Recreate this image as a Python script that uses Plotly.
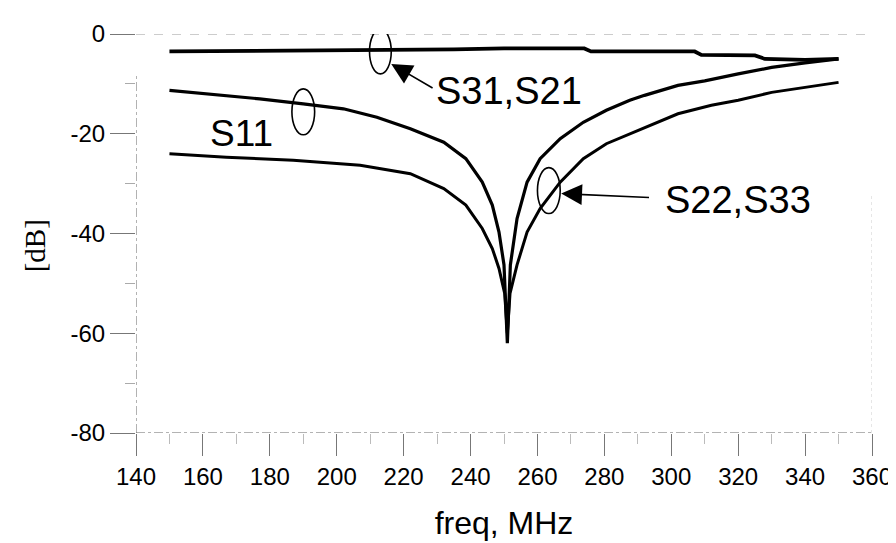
import plotly.graph_objects as go

# ---------------- data ----------------
freq_s21 = [150, 200, 235, 250, 274, 276, 307, 309, 325, 328, 340, 350]
db_s21 = [-3.5, -3.3, -3.1, -2.9, -2.9, -3.5, -3.5, -4.2, -4.3, -5.0, -5.2, -5.0]

freq_s11 = [150, 162, 177, 190, 202, 212, 222, 232, 238.6, 243.5, 246.5, 248.5, 250, 251,
            251.9, 253.9, 256.9, 260.8, 266.8, 273.7, 280.6, 287.6, 292, 302, 310, 320,
            330, 340, 350]
db_s11 = [-11.3, -12, -13, -14, -15, -16.7, -19, -21.7, -25, -29.7, -34.3, -39.7, -46.3, -62,
          -46.3, -37, -29.7, -25, -21, -17.7, -15.3, -13.3, -12.3, -10.3, -9.4, -8.0,
          -6.7, -5.8, -5.0]

freq_s22 = [150, 167, 187, 207, 222, 232, 238.6, 243.5, 246.5, 248.5, 250.2, 251,
            251.8, 253.9, 256.9, 260.8, 266.8, 273.7, 280.6, 287.6, 292, 302, 312, 320,
            330, 340, 350]
db_s22 = [-24, -24.7, -25.3, -26.3, -28, -31, -34.3, -39, -43, -47, -52, -60,
          -52, -46.3, -39.7, -35, -29.7, -25, -22, -20, -18.8, -16, -14.3, -13.3,
          -11.7, -10.7, -9.7]

x_ticks = [140, 160, 180, 200, 220, 240, 260, 280, 300, 320, 340, 360]
y_ticks = [0, -20, -40, -60, -80]

FONT = "Liberation Sans, Arial, sans-serif"

fig = go.Figure()
fig.add_trace(go.Scatter(x=freq_s21, y=db_s21, mode="lines",
                         line=dict(color="black", width=3.8), name="S31,S21"))
fig.add_trace(go.Scatter(x=freq_s11, y=db_s11, mode="lines",
                         line=dict(color="black", width=3.2), name="S11"))
fig.add_trace(go.Scatter(x=freq_s22, y=db_s22, mode="lines",
                         line=dict(color="black", width=3.0), name="S22,S33"))

fig.update_layout(
    width=896, height=543,
    margin=dict(l=128, r=27, t=25, b=118),
    paper_bgcolor="white", plot_bgcolor="white",
    showlegend=False,
    font=dict(family=FONT, color="black"),
    xaxis=dict(range=[140, 360], tickvals=x_ticks, ticktext=[str(v) for v in x_ticks],
               showgrid=False, zeroline=False, showline=False,
               ticks="outside", ticklen=22, tickcolor="#777", tickwidth=1,
               tickfont=dict(size=24, family=FONT),
               minor=dict(ticks="outside", ticklen=10, tickcolor="#bbb", dtick=10),
               title=dict(text="freq, MHz", font=dict(size=32, family=FONT), standoff=22)),
    yaxis=dict(range=[-80, 0], tickvals=y_ticks, ticktext=[str(v) for v in y_ticks],
               showgrid=False, zeroline=False, showline=False,
               ticks="outside", ticklen=25, tickcolor="#777", tickwidth=1,
               tickfont=dict(size=24, family=FONT),
               minor=dict(ticks="outside", ticklen=10, tickcolor="#aaa", dtick=10)),
)

# frame / grid lines (scanned-looking dashed lines)
fig.add_shape(type="line", xref="paper", yref="y", x0=0, x1=1, y0=0, y1=0,
              line=dict(color="#999", width=1, dash="dash"), layer="below")
fig.add_shape(type="line", xref="paper", yref="y", x0=0, x1=1, y0=-80, y1=-80,
              line=dict(color="#666", width=1, dash="dashdot"), layer="below")
fig.add_shape(type="line", xref="x", yref="paper", x0=140, x1=140, y0=0, y1=0.9,
              line=dict(color="#666", width=1, dash="dashdot"), layer="below")
fig.add_shape(type="line", xref="x", yref="paper", x0=360, x1=360, y0=0, y1=0.6,
              line=dict(color="#ccc", width=1, dash="dot"), layer="below")

# ellipses
for (x0, x1, y0, y1) in [(209.8, 216.3, 1.0, -8.0),
                         (186.6, 193.4, -11.0, -20.2),
                         (260.0, 266.8, -26.8, -36.0)]:
    fig.add_shape(type="circle", xref="x", yref="y", x0=x0, x1=x1, y0=y0, y1=y1,
                  line=dict(color="black", width=1.6))

# labels
fig.add_annotation(x=251.6, y=-11.5, text="S31,S21", showarrow=False,
                   font=dict(size=38, family=FONT), xanchor="center", yanchor="middle")
fig.add_annotation(x=171.5, y=-20, text="S11", showarrow=False,
                   font=dict(size=37, family=FONT), xanchor="center", yanchor="middle")
fig.add_annotation(x=319.9, y=-33.2, text="S22,S33", showarrow=False,
                   font=dict(size=38, family=FONT), xanchor="center", yanchor="middle")

# arrows
fig.add_annotation(x=216.3, y=-6, ax=229.1, ay=-11, axref="x", ayref="y",
                   xref="x", yref="y", text="", showarrow=True,
                   arrowhead=2, arrowsize=2.6, arrowwidth=1.6, arrowcolor="black")
fig.add_annotation(x=267.1, y=-32, ax=293.8, ay=-32.8, axref="x", ayref="y",
                   xref="x", yref="y", text="", showarrow=True,
                   arrowhead=2, arrowsize=2.6, arrowwidth=1.6, arrowcolor="black")

# y-axis title (serif in the original)
fig.add_annotation(xref="paper", yref="paper", x=-0.136, y=0.47, text="[dB]",
                   showarrow=False, textangle=-90,
                   font=dict(size=29, family="Liberation Serif, Times New Roman, serif"),
                   xanchor="center", yanchor="middle")

fig.write_html("out.html")
